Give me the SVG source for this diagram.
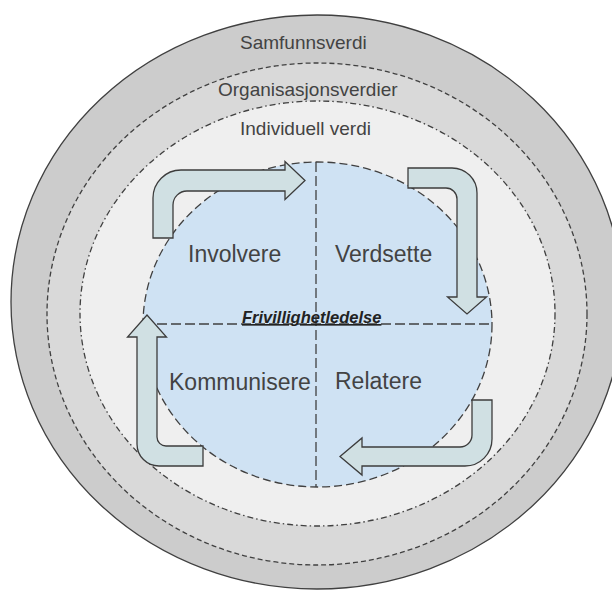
<svg xmlns="http://www.w3.org/2000/svg" width="612" height="592" viewBox="0 0 612 592">
<style>
.ring{stroke:#404040;stroke-width:1.3}
.lbl{font-family:"Liberation Sans",Arial,sans-serif;fill:#434343}
.big{font-size:23px}
.small{font-size:19px}
.arrow{fill:#d0e0e3;stroke:#3c3c3c;stroke-width:1.3;stroke-linejoin:miter}
.dash{stroke:#404040;stroke-width:1.3;fill:none;stroke-dasharray:10,4}
</style>
<rect width="612" height="592" fill="#ffffff"/>
<g id="samfunn">
<ellipse cx="317" cy="302" rx="306" ry="287" fill="#cccccc" class="ring"/>
<text class="lbl small" x="240" y="49">Samfunnsverdi</text>
</g>
<g id="organisasjon">
<ellipse cx="317" cy="314" rx="270" ry="251" fill="#d9d9d9" class="ring" stroke-dasharray="5,3"/>
</g>
<g id="individ">
<ellipse cx="317.5" cy="313.5" rx="237.5" ry="212.5" fill="#efefef" class="ring" stroke-dasharray="6,3,1.5,3"/>
<text class="lbl small" x="240" y="135">Individuell verdi</text>
</g>
<text class="lbl small" x="218" y="96">Organisasjonsverdier</text>
<g id="frivillighet">
<ellipse cx="317.5" cy="324.5" rx="174.5" ry="162.5" fill="#cfe2f3" class="ring" stroke-dasharray="8,4"/>
<line x1="316" y1="162" x2="316" y2="487" class="dash"/>
<line x1="143" y1="324" x2="492" y2="324" class="dash"/>
<text x="242" y="323" font-family="'Liberation Sans',Arial,sans-serif" font-size="16.5" font-weight="bold" font-style="italic" fill="#222222" text-decoration="underline">Frivillighetledelse</text>
</g>
<g id="connectors">
<path id="arrow-involvere" class="arrow" d="M153,238 L153,198 A28,28 0 0 1 181,170 L285,170 L285,161.5 L305,180.5 L285,199.5 L285,191 L187,191 A14,14 0 0 0 173,205 L173,238 Z"/>
<path id="arrow-verdsette" class="arrow" d="M408,168 L452,168 A25,25 0 0 1 477,193 L477,297 L486.5,297 L467,314 L447.5,297 L457,297 L457,199 A11,11 0 0 0 446,188 L408,188 Z"/>
<path id="arrow-relatere" class="arrow" d="M472,400 L492,400 L492,439 A27,27 0 0 1 465,466 L362,466 L362,475 L340,456.5 L362,438 L362,447 L460,447 A12,12 0 0 0 472,435 Z"/>
<path id="arrow-kommunisere" class="arrow" d="M203,446 L203,466 L159,466 A22,22 0 0 1 137,444 L137,337 L127.5,337 L147,315 L166.5,337 L157,337 L157,437 A9,9 0 0 0 166,446 Z"/>
</g>
<g id="q-involvere"><text class="lbl big" x="188" y="262">Involvere</text></g>
<g id="q-verdsette"><text class="lbl big" x="335" y="262">Verdsette</text></g>
<g id="q-kommunisere"><text class="lbl big" x="169" y="390">Kommunisere</text></g>
<g id="q-relatere"><text class="lbl big" x="335" y="389">Relatere</text></g>
</svg>
